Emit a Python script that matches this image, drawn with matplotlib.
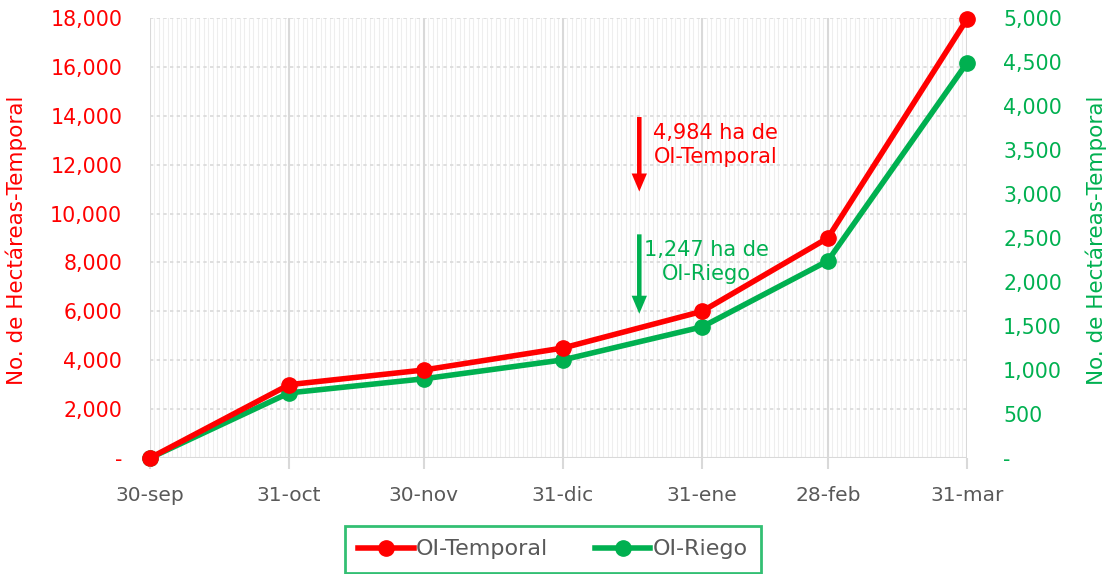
import numpy as np
import pandas as pd
import matplotlib
matplotlib.use('Agg')
import matplotlib.pyplot as plt
from matplotlib.ticker import FuncFormatter, MultipleLocator

# datos
fechas = ['2020-09-30', '2020-10-31', '2020-11-30', '2020-12-31', '2021-01-31', '2021-02-28', '2021-03-31']
etiquetas = ['30-sep', '31-oct', '30-nov', '31-dic', '31-ene', '28-feb', '31-mar']
temporal = [0, 3000, 3600, 4500, 6000, 9000, 17950]
riego = [0, 740, 900, 1115, 1490, 2240, 4490]

rojo = '#ff0000'
verde = '#00b050'
gris = '#595959'

plt.rcParams['font.family'] = ['DejaVu Sans']

x = pd.to_datetime(fechas)

fig = plt.figure(figsize=(11.07, 5.74), dpi=100)
ax = fig.add_axes([0.1355, 0.2021, 0.738, 0.7665])
ax2 = ax.twinx()

def miles(v, pos):
    if abs(v) < 1e-6:
        return '-'
    return '{:,.0f}'.format(v)

ax.set_ylim(0, 18000)
ax2.set_ylim(0, 5000)

# rejilla (en ax2, que queda abajo)
for d in pd.date_range(x[0], x[-1], freq='D'):
    ax2.axvline(d, color='#eeeeee', lw=0.8, zorder=0)
for d in x:
    ax2.axvline(d, color='#d9d9d9', lw=1.5, zorder=0)
for v in range(2000, 18001, 2000):
    ax2.axhline(v * 5000 / 18000, color='#d9d9d9', lw=1.2, ls=(0, (2, 2)), zorder=0)
ax2.axhline(0, color='#d9d9d9', lw=1.5, zorder=0)

ax2.plot(x, riego, color=verde, lw=4, marker='o', ms=11, zorder=4, clip_on=False, label='OI-Riego')
ax.plot(x, temporal, color=rojo, lw=4, marker='o', ms=11, zorder=5, clip_on=False, label='OI-Temporal')
ax.set_zorder(ax2.get_zorder() + 1)
ax.patch.set_visible(False)

ax.set_xlim(x[0], x[-1])
ax.yaxis.set_major_locator(MultipleLocator(2000))
ax2.yaxis.set_major_locator(MultipleLocator(500))
ax.yaxis.set_major_formatter(FuncFormatter(miles))
ax2.yaxis.set_major_formatter(FuncFormatter(miles))

ax.set_xticks(x)
ax.set_xticklabels(etiquetas)

for a in (ax, ax2):
    for s in a.spines.values():
        s.set_visible(False)

ax.tick_params(axis='x', colors='#d9d9d9', length=8, width=1.5, pad=12, labelcolor=gris, labelsize=14.5)
ax.tick_params(axis='y', length=0, pad=20, labelcolor=rojo, labelsize=14.8)
ax2.tick_params(axis='y', length=0, pad=26, labelcolor=verde, labelsize=14.8)

ax.set_ylabel('No. de Hectáreas-Temporal', color=rojo, fontsize=15.5)
ax2.set_ylabel('No. de Hectáreas-Temporal', color=verde, fontsize=15.5)
ax.yaxis.set_label_coords(-0.15, 0.495)
ax2.yaxis.set_label_coords(1.1457, 0.495)

# anotaciones
xa = pd.Timestamp('2021-01-17')
flecha = 'simple,head_width=0.85,head_length=1.0,tail_width=0.25'
ax.annotate('', xy=(xa, 10900), xytext=(xa, 13950),
            arrowprops=dict(arrowstyle=flecha, color=rojo, lw=0, shrinkA=0, shrinkB=0, mutation_scale=13))
ax.text(pd.Timestamp('2021-02-03'), 12800, '4,984 ha de\nOI-Temporal', color=rojo,
        fontsize=15, ha='center', va='center', linespacing=1.25)
ax.annotate('', xy=(xa, 5900), xytext=(xa, 9150),
            arrowprops=dict(arrowstyle=flecha, color=verde, lw=0, shrinkA=0, shrinkB=0, mutation_scale=13))
ax.text(pd.Timestamp('2021-02-01'), 8000, '1,247 ha de\nOI-Riego', color=verde,
        fontsize=15, ha='center', va='center', linespacing=1.25)

h1, l1 = ax.get_legend_handles_labels()
h2, l2 = ax2.get_legend_handles_labels()
leg = fig.legend(h1 + h2, l1 + l2, loc='upper center', bbox_to_anchor=(0.4995, 0.0836),
                 ncol=2, fontsize=16, frameon=True, fancybox=False, handlelength=2.5,
                 borderpad=0.6, borderaxespad=0, columnspacing=2.1, handletextpad=0.1)
leg.get_frame().set_edgecolor(verde)
leg.get_frame().set_linewidth(2)
for t in leg.get_texts():
    t.set_color(gris)

fig.savefig('out.png', dpi=100)
